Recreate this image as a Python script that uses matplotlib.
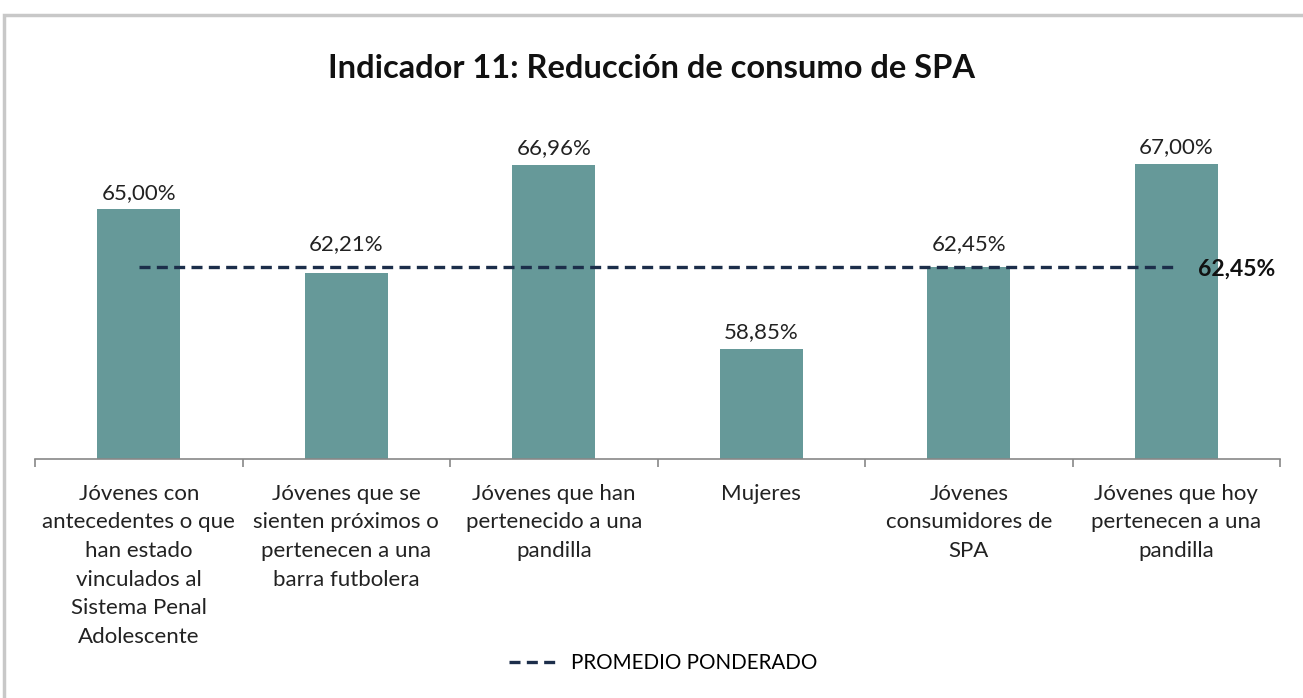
import matplotlib
matplotlib.use("Agg")
import matplotlib.pyplot as plt
from matplotlib.patches import Rectangle
from matplotlib.lines import Line2D

categories = [
    "Jóvenes con\nantecedentes o que\nhan estado\nvinculados al\nSistema Penal\nAdolescente",
    "Jóvenes que se\nsienten próximos o\npertenecen a una\nbarra futbolera",
    "Jóvenes que han\npertenecido a una\npandilla",
    "Mujeres",
    "Jóvenes\nconsumidores de\nSPA",
    "Jóvenes que hoy\npertenecen a una\npandilla",
]
values = [65.00, 62.21, 66.96, 58.85, 62.45, 67.00]
value_labels = ["65,00%", "62,21%", "66,96%", "58,85%", "62,45%", "67,00%"]
promedio = 62.45
promedio_label = "62,45%"
title = "Indicador 11: Reducción de consumo de SPA"
legend_label = "PROMEDIO PONDERADO"

plt.rcParams['font.family'] = ['Lato', 'DejaVu Sans']

W, H = 1303, 698
fig = plt.figure(figsize=(W / 100, H / 100), dpi=100)

# outer frame
fig.patches.append(Rectangle((4 / W, -0.05), 1.2, 1 - 15 / H + 0.05, transform=fig.transFigure,
                             fill=False, edgecolor="#c8c8c8", linewidth=2.5))

left, right = 35 / W, 1280 / W
bottom, top = 1 - 459 / H, 1 - 96 / H
ax = fig.add_axes([left, bottom, right - left, top - bottom])

x = list(range(len(values)))
bar_color = "#669999"
ax.bar(x, values, width=0.40, color=bar_color, zorder=2)
ax.set_xlim(-0.5, len(values) - 0.5)
ax.set_ylim(54, 70)

for xi, v, lab in zip(x, values, value_labels):
    # labels close to the average line are lifted above it
    y = max(v, promedio) + 0.6 if abs(v - promedio) < 1 else v + 0.3
    ax.text(xi, y, lab, ha="center", va="bottom", fontsize=16, color="#222222", zorder=4)

dash = (0, (3.3, 1.9))
line_color = "#1c2e4a"
ax.plot([x[0], x[-1]], [promedio, promedio], linestyle=dash, color=line_color,
        linewidth=2.4, zorder=3)
ax.text(x[-1] + 0.105, promedio - 0.1, promedio_label, ha="left", va="center", fontsize=16.5,
        fontweight="bold", color="#111111", zorder=4)

for s in ["top", "right", "left"]:
    ax.spines[s].set_visible(False)
ax.spines["bottom"].set_color("#888888")
ax.spines["bottom"].set_linewidth(1.2)
ax.set_yticks([])
ax.set_xticks([i - 0.5 for i in range(len(values) + 1)], minor=False)
ax.set_xticklabels([])
ax.tick_params(axis="x", length=6, color="#888888", width=1.2)
for xi, c in zip(x, categories):
    ax.text(xi, -0.068, c, transform=ax.get_xaxis_transform(), ha="center", va="top",
            fontsize=16, color="#222222", linespacing=1.54)

fig.text(0.5, 1 - 68 / H, title, ha="center", va="center", fontsize=23.5, fontweight="bold",
         color="#111111")

handle = Line2D([], [], linestyle=dash, color=line_color, linewidth=2.4)
fig.legend([handle], [legend_label], loc="center", bbox_to_anchor=(663 / W, 1 - 663 / H),
           frameon=False, fontsize=14.8, handlelength=2.4, handletextpad=0.6)

fig.savefig("out.png", dpi=100)
